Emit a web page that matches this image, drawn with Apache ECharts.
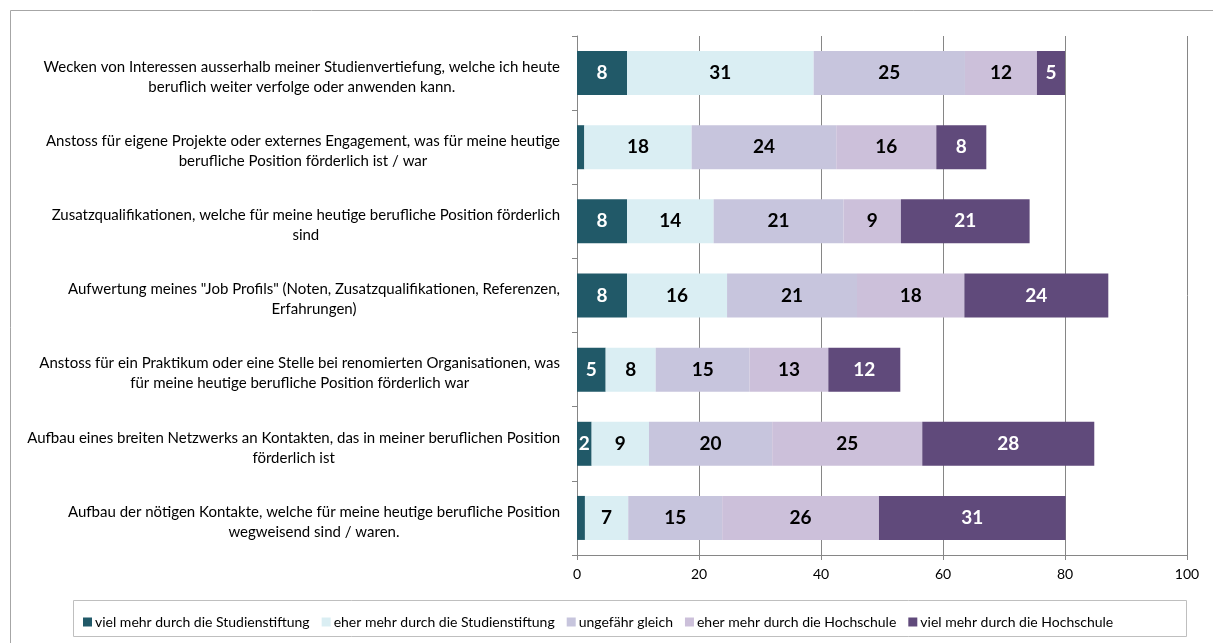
<!DOCTYPE html>
<html style="height: 100%">
<head>
    <meta charset="utf-8">
</head>
<body style="height: 100%; margin: 0; background: #fff">
<div id="container" style="height: 100%"></div>

<script type="text/javascript" src="https://cdn.jsdelivr.net/npm/echarts@6/dist/echarts.min.js"></script>
<script type="text/javascript">
    // Kategorien (von oben nach unten)
    var categories = [
        'Wecken von Interessen ausserhalb meiner Studienvertiefung, welche ich heute\nberuflich weiter verfolge oder anwenden kann.',
        'Anstoss für eigene Projekte oder externes Engagement, was für meine heutige\nberufliche Position förderlich ist / war',
        'Zusatzqualifikationen, welche für meine heutige berufliche Position förderlich\nsind',
        'Aufwertung meines "Job Profils" (Noten, Zusatzqualifikationen, Referenzen,\nErfahrungen)',
        'Anstoss für ein Praktikum oder eine Stelle bei renomierten Organisationen, was\nfür meine heutige berufliche Position förderlich war',
        'Aufbau eines breiten Netzwerks an Kontakten, das in meiner beruflichen Position\nförderlich ist',
        'Aufbau der nötigen Kontakte, welche für meine heutige berufliche Position\nwegweisend sind / waren.'
    ];

    var seriesNames = [
        'viel mehr durch die Studienstiftung',
        'eher mehr durch die Studienstiftung',
        'ungefähr gleich',
        'eher mehr durch die Hochschule',
        'viel mehr durch die Hochschule'
    ];

    // Prozentwerte, aus den Balkenlängen geschätzt (Beschriftung gerundet)
    var vielMehrStiftung = [8.2, 1.2, 8.2, 8.2, 4.7, 2.4, 1.3];
    var eherMehrStiftung = [30.6, 17.6, 14.2, 16.4, 8.2, 9.4, 7.1];
    var ungefaehrGleich  = [24.8, 23.7, 21.3, 21.3, 15.4, 20.2, 15.4];
    var eherMehrHochschule = [11.8, 16.4, 9.4, 17.6, 12.9, 24.6, 25.7];
    var vielMehrHochschule = [4.6, 8.2, 21.1, 23.6, 11.8, 28.2, 30.6];

    var xTicks = [0, 20, 40, 60, 80, 100];

    var colors = ['#215968', '#DAEEF3', '#C7C5DD', '#CCC0DA', '#604A7B'];
    var labelColors = ['#ffffff', '#000000', '#000000', '#000000', '#ffffff'];

    var dom = document.getElementById("container");
    var myChart = echarts.init(dom);
    var option;

    var allData = [vielMehrStiftung, eherMehrStiftung, ungefaehrGleich, eherMehrHochschule, vielMehrHochschule];

    var series = allData.map(function (d, i) {
        return {
            name: seriesNames[i],
            type: 'bar',
            stack: 'total',
            data: d,
            barWidth: 44,
            itemStyle: { color: colors[i] },
            label: {
                show: true,
                position: 'inside',
                color: labelColors[i],
                fontFamily: 'Lato',
                fontWeight: 'bold',
                fontSize: 19,
                formatter: function (p) {
                    return p.value < 1.5 ? '' : Math.round(p.value);
                }
            }
        };
    });

    option = {
        animation: false,
        textStyle: { fontFamily: 'Lato' },
        graphic: [
            {
                type: 'rect',
                z: -10,
                shape: { x: 10.5, y: 10.5, width: 1230, height: 660 },
                style: { fill: 'none', stroke: '#A6A6A6', lineWidth: 1 }
            },
            {
                type: 'rect',
                z: -10,
                shape: { x: 73.5, y: 600.5, width: 1113, height: 36 },
                style: { fill: 'none', stroke: '#BFBFBF', lineWidth: 1 }
            }
        ],
        legend: {
            left: 78,
            top: 610,
            itemWidth: 9,
            itemHeight: 9,
            itemGap: 12,
            icon: 'rect',
            textStyle: { fontFamily: 'Lato', fontSize: 14, color: '#000', padding: [0, 0, 0, -2] },
            data: seriesNames
        },
        grid: {
            left: 577,
            right: 26,
            top: 36,
            bottom: 88,
            containLabel: false
        },
        xAxis: {
            type: 'value',
            min: xTicks[0],
            max: xTicks[xTicks.length - 1],
            interval: 20,
            axisLine: { show: true, lineStyle: { color: '#868686' } },
            axisTick: { show: true, length: 5, lineStyle: { color: '#868686' } },
            axisLabel: { color: '#000', fontSize: 14, margin: 12, fontFamily: 'Lato' },
            splitLine: { show: true, lineStyle: { color: '#868686', width: 1 } }
        },
        yAxis: {
            type: 'category',
            inverse: true,
            data: categories,
            axisLine: { show: true, lineStyle: { color: '#868686' } },
            axisTick: { show: true, length: 5, lineStyle: { color: '#868686' } },
            axisLabel: {
                margin: 17,
                color: '#000',
                fontSize: 15,
                lineHeight: 20,
                padding: [8, 0, 0, 0],
                fontFamily: 'Lato',
                formatter: function (value) {
                    return value.split('\n').map(function (l) {
                        return '{c|' + l + '}';
                    }).join('\n');
                },
                rich: {
                    c: { align: 'center', fontSize: 15, lineHeight: 20, fontFamily: 'Lato', color: '#000' }
                }
            },
            splitLine: { show: false }
        },
        series: series
    };

    myChart.setOption(option);
</script>
</body>
</html>
